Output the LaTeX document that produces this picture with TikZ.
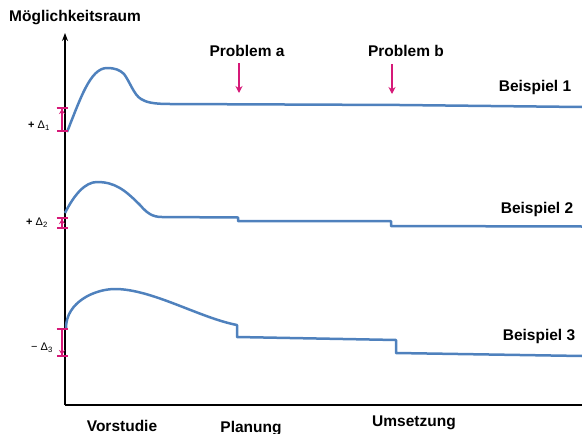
\documentclass[tikz,border=0pt]{standalone}
\usepackage{fontspec}
\setmainfont{Liberation Sans}
\usetikzlibrary{arrows.meta,positioning}

\definecolor{curveblue}{RGB}{79,129,189}
\definecolor{deltapink}{RGB}{214,25,120}

\tikzset{
	axisline/.style={line width=2.6pt, black},
	curve/.style={line width=2.5pt, curveblue, line join=round},
	label/.style={font=\fontsize{15.5}{17}\selectfont\bfseries, inner sep=0pt},
	deltalabel/.style={font=\fontsize{11}{12}\selectfont, inner sep=0pt},
	deltabar/.style={line width=2.2pt, deltapink, {Bar[width=11pt,line width=2.2pt]}-{Bar[width=11pt,line width=2.2pt]}},
	deltaarrow/.style={line width=2.2pt, deltapink, -{Stealth[length=5pt,width=6pt]}},
	problemarrow/.style={line width=2.2pt, deltapink, -{Stealth[length=7pt,width=7pt]}},
}

\begin{document}
\begin{tikzpicture}[x=1pt,y=-1pt]
	\useasboundingbox (0,0) rectangle (582,434);

	% axes
	\coordinate (o) at (65,405);
	\coordinate (ytop) at (65,33);
	\coordinate (xend) at (584,405);
	\draw[axisline, -{Stealth[length=8pt,width=6pt]}] (o) -- (ytop);
	\draw[axisline] (o) -- (xend);

	\node[label, anchor=west] (raum) at (9,18) {Möglichkeitsraum};

	% phases
	\node[label] (vor) at (122,426) {Vorstudie};
	\node[label] (plan) at (251,429) {Planung};
	\node[label] (ums) at (414,423) {Umsetzung};

	% problems
	\node[label] (pa) at (247,51) {Problem a};
	\node[label] (pb) at (406,51) {Problem b};
	\coordinate (pa1) at (239,63);
	\coordinate (pa2) at (239,93);
	\coordinate (pb1) at (392,64);
	\coordinate (pb2) at (392,94);
	\draw[problemarrow] (pa1) -- (pa2);
	\draw[problemarrow] (pb1) -- (pb2);

	% examples
	\node[label] (b1) at (535,87) {Beispiel 1};
	\node[label] (b2) at (537,209) {Beispiel 2};
	\node[label] (b3) at (539,336) {Beispiel 3};

	\draw[curve] (67,132) .. controls (80,100) and (90,68) .. (107,68)
		.. controls (115,68) and (120,70) .. (124,74)
		.. controls (130,82) and (134,95) .. (141,99)
		.. controls (146,102) and (152,104) .. (170,104)
		-- (400,105) -- (582,107);
	\draw[curve] (65,213) .. controls (74,195) and (85,182) .. (97,182)
		.. controls (115,182) and (125,190) .. (140,205)
		.. controls (147,213) and (152,217) .. (162,217)
		-- (238,217.5) -- (238,221) -- (391,221) -- (391,226) -- (582,226.5);
	\draw[curve] (66,328) .. controls (66,302) and (95,289) .. (115,289)
		.. controls (152,289) and (200,318) .. (237,325)
		-- (237,337) -- (396,340) -- (396,353) -- (582,356);

	% deltas
	\coordinate (d1t) at (62,107);
	\coordinate (d1b) at (62,132);
	\coordinate (d2t) at (62,217);
	\coordinate (d2b) at (62,229);
	\coordinate (d3t) at (62,328);
	\coordinate (d3b) at (62,357);
	\draw[deltabar] (d1b) -- (d1t);
	\draw[deltaarrow] (62,120) -- (62,109);
	\draw[deltabar] (d2b) -- (d2t);
	\draw[deltaarrow] (62,226) -- (62,219);
	\draw[deltabar] (d3t) -- (d3b);
	\draw[deltaarrow] (62,342) -- (62,355);

	\node[deltalabel] (l1) at (39,126) {\textbf{+} Δ\textsubscript{1}};
	\node[deltalabel] (l2) at (37,223) {\textbf{+} Δ\textsubscript{2}};
	\node[deltalabel] (l3) at (42,348) {− Δ\textsubscript{3}};
\end{tikzpicture}
\end{document}
